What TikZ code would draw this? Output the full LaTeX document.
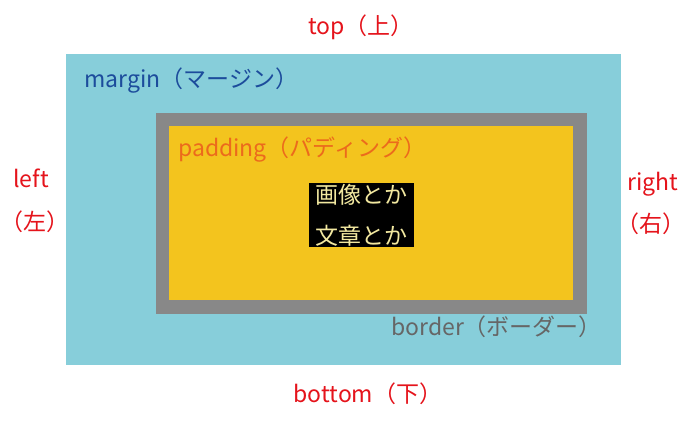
\documentclass[tikz,border=0pt]{standalone}
\usepackage{fontspec}
\setmainfont{Noto Sans CJK JP}
\definecolor{margincol}{HTML}{87CEDA}
\definecolor{bordercol}{HTML}{888888}
\definecolor{padcol}{HTML}{F3C41E}
\definecolor{redtxt}{HTML}{E5131B}
\definecolor{bluetxt}{HTML}{1C4C9C}
\definecolor{orangetxt}{HTML}{EC6A1C}
\definecolor{graytxt}{HTML}{666666}
\definecolor{palet}{HTML}{F2E8A0}
\tikzset{
  lbl/.style={inner sep=0pt, font=\fontsize{23}{27}\selectfont},
  side/.style={lbl, text=redtxt},
}
\begin{document}
\begin{tikzpicture}[x=1pt,y=-1pt]
\useasboundingbox (0,0) rectangle (693,428);
\fill[white] (0,0) rectangle (693,428);
% boxes
\node[fill=margincol, inner sep=0pt, minimum width=555pt, minimum height=311pt, anchor=north west] (marginbox) at (66,54) {};
\node[fill=bordercol, inner sep=0pt, minimum width=431pt, minimum height=201pt, anchor=north west] (borderbox) at (156,113) {};
\node[fill=padcol, inner sep=0pt, minimum width=404pt, minimum height=174pt, anchor=north west] (padbox) at (169,126) {};
\node[fill=black, inner sep=0pt, minimum width=105pt, minimum height=64pt, anchor=north west] (content) at (309,183) {};
% labels
\node[lbl, text=bluetxt, anchor=base west] (mlabel) at (84,87) {margin（マージン）};
\node[lbl, text=orangetxt, anchor=base west] (plabel) at (178,156) {padding（パディング）};
\node[lbl, text=graytxt, anchor=base west] (blabel) at (391,335) {border（ボーダー）};
\node[lbl, text=palet, anchor=base] (c1) at (361.5,203) {画像とか};
\node[lbl, text=palet, anchor=base] (c2) at (361.5,244) {文章とか};
% sides
\node[side, anchor=base] (top) at (361,35) {top（上）};
\node[side, anchor=base] (bottom) at (368,402) {bottom（下）};
\node[side, anchor=base] (left1) at (31,187) {left};
\node[side, anchor=base] (left2) at (35,230) {\kern-10pt（左）\kern-10pt};
\node[side, anchor=base] (right1) at (653,190) {right};
\node[side, anchor=base] (right2) at (651,232) {\kern-10pt（右）\kern-10pt};
\end{tikzpicture}
\end{document}
